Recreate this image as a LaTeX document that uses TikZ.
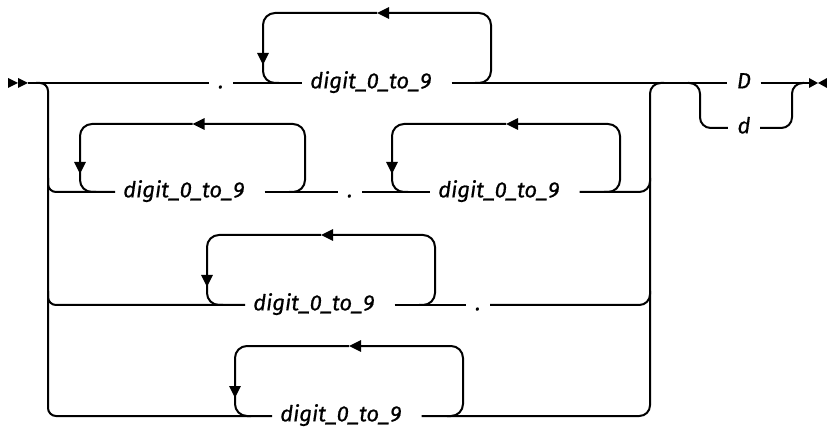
\documentclass[tikz,border=0pt]{standalone}
\usepackage{fontspec}
\setmainfont{Fira Sans}[ItalicFeatures={FakeBold=0.6}]
\usetikzlibrary{arrows.meta}
\tikzset{
  lbl/.style={font=\itshape\fontsize{16.5pt}{19pt}\selectfont, inner xsep=6pt, inner ysep=0pt, text height=8.5pt, text depth=0.5pt, anchor=west},
  dotlbl/.style={font=\itshape\fontsize{16.5pt}{19pt}\selectfont, inner xsep=7pt, inner ysep=0pt, text height=8.5pt, text depth=0.5pt},
  rail/.style={line width=1.5pt},
  tipa/.style={-{Triangle[length=9pt,width=8.5pt]}},
  marker/.style={fill=black, draw=none},
}
\newcommand{\myloop}[4]{%
  \draw[rail, rounded corners=9pt, tipa] ({#2-16},#3) -- (#2,#3) -- (#2,#4) -- ({(#1+#2)/2},#4);
  \draw[rail, rounded corners=9pt, tipa] ({(#1+#2)/2},#4) -- (#1,#4) -- (#1,{#3-18});
  \draw[rail, rounded corners=9pt] (#1,{#3-20}) -- (#1,#3) -- ({#1+16},#3);
}
\newcommand{\dg}{digit\_0\_to\_9\kern9pt}
\begin{document}
\begin{tikzpicture}[x=0.75pt,y=-0.75pt]
\useasboundingbox (0,0) rectangle (827,427);
% markers
\fill[marker] (8,78) -- (18,83) -- (8,88) -- cycle;
\fill[marker] (18,78) -- (28,83) -- (18,88) -- cycle;
\coordinate (start) at (28,83);
\fill[marker] (809,78) -- (818,83) -- (809,88) -- cycle;
\fill[marker] (827,78) -- (818,83) -- (827,88) -- cycle;
\coordinate (end) at (809,83);

% row 1
\node[dotlbl] (dotA) at (221,83) {.};
\node[lbl] (dA) at (302,83) {\dg};
\node[dotlbl] (D) at (744,83) {D};
\node[dotlbl] (d) at (744,128) {d};
\draw[rail] (start) -- (dotA.west);
\draw[rail] (dotA.east) -- (dA.west);
\draw[rail] (dA.east) -- (D.west);
\draw[rail] (D.east) -- (end);
\myloop{263}{491}{83}{13}

% row 2
\node[lbl] (dB1) at (115,192) {\dg};
\node[dotlbl] (dotB) at (350,192) {.};
\node[lbl] (dB2) at (430,192) {\dg};
\draw[rail] (dB1.east) -- (dotB.west);
\draw[rail] (dotB.east) -- (dB2.west);
\myloop{80}{305}{192}{124}
\myloop{392}{620}{192}{124}

% row 3
\node[lbl] (dC) at (245,305) {\dg};
\node[dotlbl] (dotC) at (478,305) {.};
\draw[rail] (dC.east) -- (dotC.west);
\myloop{207}{435}{305}{235}

% row 4
\node[lbl] (dD) at (272,416) {\dg};
\myloop{235}{463}{416}{346}

% left branch
\draw[rail, rounded corners=6pt] (36,83) -- (48,83) -- (48,416) -- (dD.west);
\draw[rail, rounded corners=6pt] (48,178) -- (48,192) -- (dB1.west);
\draw[rail, rounded corners=6pt] (48,291) -- (48,305) -- (dC.west);

% right branch
\draw[rail, rounded corners=8pt] (dD.east) -- (650,416) -- (650,83) -- (664,83);
\draw[rail, rounded corners=8pt] (dB2.east) -- (650,192) -- (650,178);
\draw[rail, rounded corners=8pt] (dotC.east) -- (650,305) -- (650,291);

% D / d
\draw[rail, rounded corners=8pt] (688,83) -- (700,83) -- (700,128) -- (d.west);
\draw[rail, rounded corners=8pt] (d.east) -- (792,128) -- (792,83) -- (804,83);
\end{tikzpicture}
\end{document}
